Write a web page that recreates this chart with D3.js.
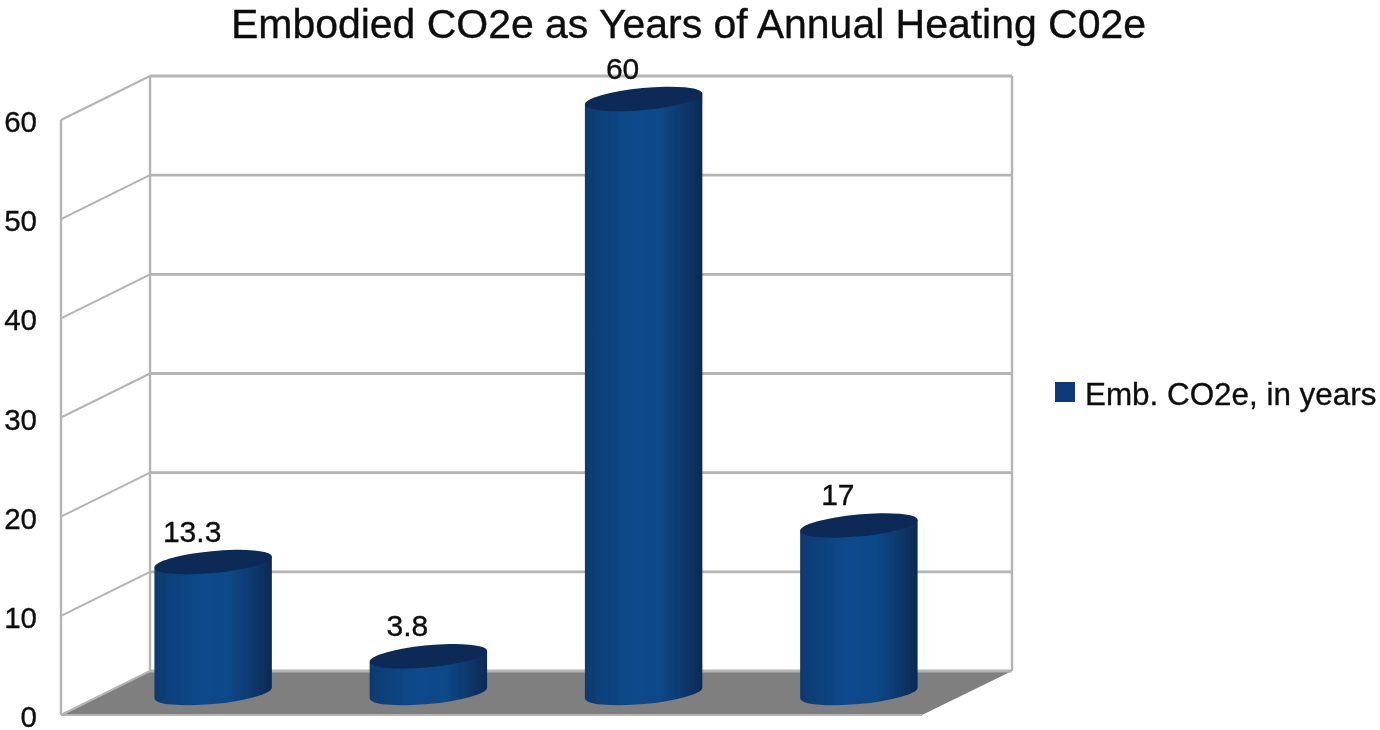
<!DOCTYPE html>
<html>
<head>
<meta charset="utf-8">
<script src="https://cdn.jsdelivr.net/npm/d3@7"></script>
<style>
html,body{margin:0;padding:0;background:#fff;overflow:hidden}
text{font-family:"Liberation Sans",Arial,sans-serif;fill:#111;stroke:#111;stroke-width:0.35px}
</style>
</head>
<body>
<svg id="chart" width="1380" height="730"></svg>
<script>
const titleText = "Embodied CO2e as Years of Annual Heating C02e";
const seriesName = "Emb. CO2e, in years";
const categories = ["1", "2", "3", "4"];
const values = [13.3, 3.8, 60, 17];
const valueLabels = ["13.3", "3.8", "60", "17"];
const yTickValues = [0, 10, 20, 30, 40, 50, 60];

const svg = d3.select("#chart");
const defs = svg.append("defs");
const blur = defs.append("filter").attr("id", "soft");
blur.append("feGaussianBlur").attr("stdDeviation", 0.5);

const grad = defs.append("linearGradient").attr("id", "cyl")
  .attr("x1", "0").attr("x2", "1").attr("y1", "0").attr("y2", "0");
[[0, "#113a6e"], [0.12, "#10407a"], [0.42, "#104a8c"], [0.64, "#104888"],
 [0.82, "#0e3a70"], [1, "#0a2a52"]].forEach(([o, c]) =>
  grad.append("stop").attr("offset", o).attr("stop-color", c));

const depth = {x: 89, y: -44};
const x = d3.scaleBand().domain(categories).range([61, 922]);
const y = d3.scaleLinear().domain([0, 60]).range([715, 120]);
const root = svg.append("g").attr("filter", "url(#soft)");

const gridColor = "#b4b4b4";
const pts = a => a.map(p => p.join(",")).join(" ");
const x0 = x.range()[0], x1 = x.range()[1];
const bx0 = x0 + depth.x, bx1 = x1 + depth.x + 1;

// floor
root.append("polygon")
  .attr("points", pts([[x0, y(0)], [bx0, y(0) + depth.y], [bx1, y(0) + depth.y], [x1, y(0)]]))
  .attr("fill", "#7f7f7f");

// walls and gridlines
const grid = root.append("g").attr("fill", "none").attr("stroke", gridColor);
grid.selectAll("line.back").data(yTickValues).join("line").attr("class", "back")
  .attr("x1", bx0).attr("x2", bx1)
  .attr("y1", d => y(d) + depth.y).attr("y2", d => y(d) + depth.y)
  .attr("stroke-width", 2.8);
grid.selectAll("line.side").data(yTickValues).join("line").attr("class", "side")
  .attr("x1", x0).attr("x2", bx0)
  .attr("y1", d => y(d)).attr("y2", d => y(d) + depth.y)
  .attr("stroke-width", 2);
[[x0, 0, x0, 60, 0], [bx0, 0, bx0, 60, depth.y], [bx1, 0, bx1, 60, depth.y]].forEach(([a, v0, b, v1, dy]) =>
  grid.append("line").attr("x1", a).attr("x2", b)
    .attr("y1", y(v0) + dy).attr("y2", y(v1) + dy).attr("stroke-width", 2.4));
grid.append("line").attr("x1", x0).attr("x2", x1).attr("y1", y(0)).attr("y2", y(0)).attr("stroke-width", 2);

// cylinders
const a = x.bandwidth() * 0.274, b = 11, tilt = -5.4 * Math.PI / 180;
const xExt = Math.sqrt(a * a * Math.cos(tilt) ** 2 + b * b * Math.sin(tilt) ** 2);
const yOff = (a * a - b * b) * Math.sin(-tilt) * Math.cos(tilt) / xExt;
const deg = tilt * 180 / Math.PI;
const cx = d => x(d) + x.bandwidth() / 2 + depth.x / 2;
const base = y(0) + depth.y / 2;
const topY = v => y(v) + depth.y / 2 + 1;

const rows = values.map((v, i) => ({v, c: categories[i], l: valueLabels[i]}));
const bars = root.selectAll("g.bar").data(rows).join("g").attr("class", "bar");
bars.append("path").attr("fill", "url(#cyl)").attr("d", d => {
  const c = cx(d.c), t = topY(d.v);
  return `M${c - xExt},${t + yOff} L${c - xExt},${base + yOff}` +
    ` A${a},${b} ${deg} 0 0 ${c + xExt},${base - yOff}` +
    ` L${c + xExt},${t - yOff} Z`;
});
bars.append("ellipse").attr("fill", "#0a2a56")
  .attr("rx", a).attr("ry", b)
  .attr("transform", d => `translate(${cx(d.c)},${topY(d.v)}) rotate(${deg})`);

// text
const txt = svg.append("g").attr("filter", "url(#soft)");
txt.append("text").attr("x", 688.5).attr("y", 38).attr("text-anchor", "middle")
  .attr("font-size", 41).attr("textLength", 915).text(titleText);

txt.selectAll("text.tick").data(yTickValues).join("text").attr("class", "tick")
  .attr("x", 37).attr("y", d => y(d) + 12).attr("text-anchor", "end")
  .attr("font-size", 29.5).text(d => d);

txt.selectAll("text.val").data(rows).join("text").attr("class", "val")
  .attr("x", d => cx(d.c) - 21).attr("y", d => topY(d.v) - 20.5)
  .attr("text-anchor", "middle").attr("font-size", 30).text(d => d.l);

// legend
root.append("rect").attr("x", 1055).attr("y", 382).attr("width", 20).attr("height", 20).attr("fill", "#0f3a7a");
txt.append("text").attr("x", 1085).attr("y", 405).attr("font-size", 31.4).text(seriesName);
</script>
</body>
</html>
